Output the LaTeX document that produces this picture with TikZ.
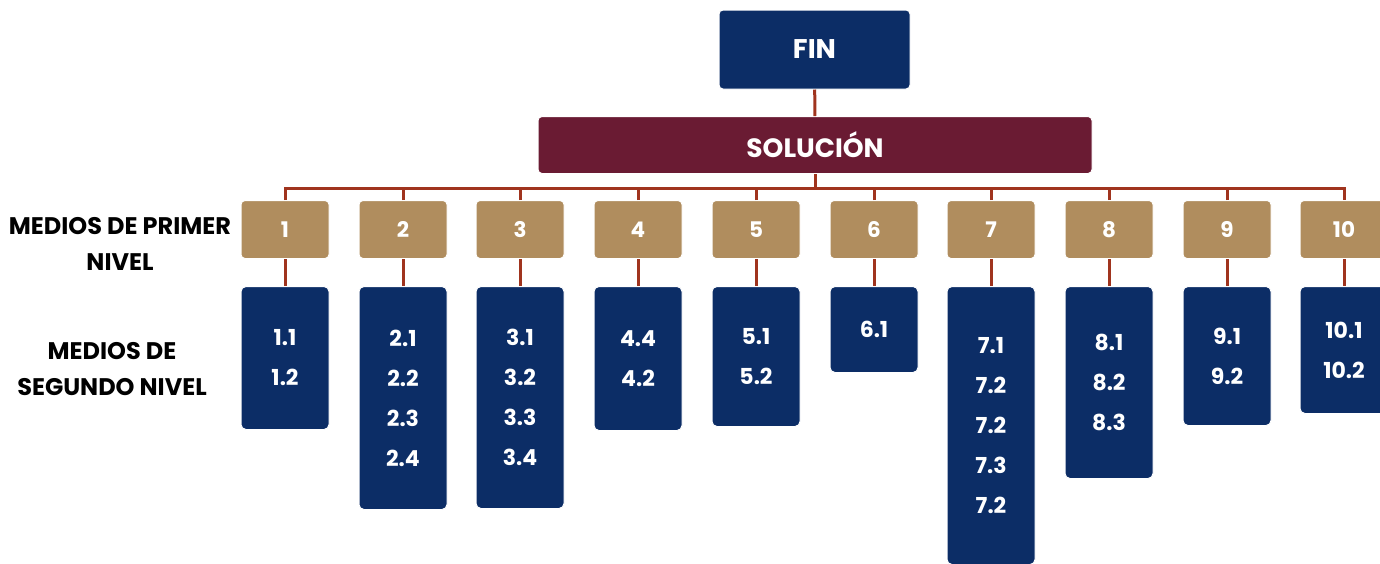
\documentclass[tikz,border=0pt]{standalone}
\usepackage{fontspec}
\setmainfont{Poppins}
\definecolor{navy}{RGB}{12,45,102}
\definecolor{wine}{RGB}{106,27,51}
\definecolor{sand}{RGB}{176,141,94}
\definecolor{rust}{RGB}{160,52,30}
\tikzset{
	topbox/.style={
		rectangle,
		rounded corners=4pt,
		fill=navy,
		draw=white, line width=1pt,
		text=white,
		minimum width=191pt,
		minimum height=79pt,
		font=\fontsize{27}{30}\bfseries\selectfont},
	solbox/.style={
		rectangle,
		rounded corners=4pt,
		fill=wine,
		draw=white, line width=1pt,
		text=white,
		minimum width=554pt,
		minimum height=57pt,
		font=\fontsize{26.5}{30}\bfseries\selectfont},
	firstbox/.style={
		rectangle,
		rounded corners=4pt,
		fill=sand,
		draw=white, line width=1pt,
		text=white,
		minimum width=88pt,
		minimum height=58pt,
		font=\fontsize{21.5}{24}\bfseries\selectfont},
	secondbox/.style={
		rectangle,
		rounded corners=5pt,
		fill=navy,
		draw=white, line width=1pt,
		text=white,
		anchor=north,
		align=center,
		minimum width=88pt,
		font=\fontsize{22}{40}\bfseries\selectfont},
	levellabel/.style={
		align=center,
		font=\fontsize{24}{36}\bfseries\selectfont},
	link/.style={draw=rust, line width=3pt}
}
\begin{document}
\begin{tikzpicture}[x=1pt, y=-1pt]
\useasboundingbox (0,0) rectangle (1380,563);
\node[topbox] (fin) at (814.5,49.5) {FIN};
\node[solbox] (sol) at (815,145) {SOLUCIÓN};
\coordinate (bus) at (815,188);
% medios de primer nivel
\node[firstbox] (l1) at (285,229.5) {1};
\node[firstbox] (l2) at (403,229.5) {2};
\node[firstbox] (l3) at (520,229.5) {3};
\node[firstbox] (l4) at (638,229.5) {4};
\node[firstbox] (l5) at (756,229.5) {5};
\node[firstbox] (l6) at (874,229.5) {6};
\node[firstbox] (l7) at (991,229.5) {7};
\node[firstbox] (l8) at (1109,229.5) {8};
\node[firstbox] (l9) at (1227,229.5) {9};
\node[firstbox] (l10) at (1344,229.5) {10};
% medios de segundo nivel
\node[secondbox, minimum height=143pt] (m1) at (285,286) {1.1\\1.2};
\node[secondbox, minimum height=223pt] (m2) at (403,286) {2.1\\2.2\\2.3\\2.4};
\node[secondbox, minimum height=222pt] (m3) at (520,286) {3.1\\3.2\\3.3\\3.4};
\node[secondbox, minimum height=144pt] (m4) at (638,286) {4.4\\4.2};
\node[secondbox, minimum height=140pt] (m5) at (756,286) {5.1\\5.2};
\node[secondbox, minimum height=86pt] (m6) at (874,286) {6.1};
\node[secondbox, minimum height=278pt] (m7) at (991,286) {7.1\\7.2\\7.2\\7.3\\7.2};
\node[secondbox, minimum height=192pt] (m8) at (1109,286) {8.1\\8.2\\8.3};
\node[secondbox, minimum height=139pt] (m9) at (1227,286) {9.1\\9.2};
\node[secondbox, minimum height=127pt] (m10) at (1344,286) {10.1\\10.2};
% etiquetas
\node[levellabel] (primer) at (120,244) {MEDIOS DE PRIMER\\NIVEL};
\node[levellabel] (segundo) at (112,369) {MEDIOS DE\\SEGUNDO NIVEL};
% conectores
\draw[link] (fin) -- (sol);
\draw[link] (sol.south) -- (bus);
\draw[link] (l1.north) |- (bus) -| (l10.north);
\foreach \i in {2,...,9}
	\draw[link] (l\i.north) -- (l\i.north |- bus);
\foreach \i in {1,...,10}
	\draw[link] (l\i.south) -- (m\i.north);
\end{tikzpicture}
\end{document}
